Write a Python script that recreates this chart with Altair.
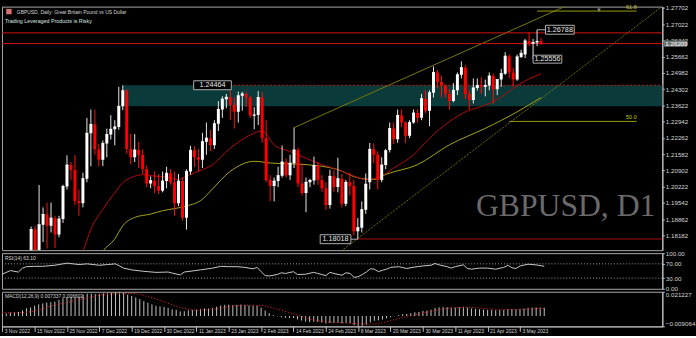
import altair as alt
import pandas as pd

# ---------------- data ----------------
opens = [1.1388,1.1166,1.1376,1.1513,1.1512,1.1351,1.1707,1.1842,1.1757,1.1862,
         1.1905,1.1858,1.1890,1.1822,1.1886,1.2022,1.2112,1.2092,1.1962,1.1952,
         1.2055,1.2245,1.2282,1.2178,1.2134,1.2203,1.2240,1.2262,1.2272,1.2358,
         1.2423,1.2180,1.2145,1.2175,1.2155,1.2095,1.2035,1.2047,1.2025,1.2005,
         1.2045,1.2078,1.2040,1.1952,1.2045,1.1892,1.2085,1.2174,1.2145,1.2135,
         1.2210,1.2225,1.2195,1.2285,1.2345,1.2388,1.2396,1.2365,1.2335,1.2402,
         1.2410,1.2395,1.2320,1.2322,1.2395,1.2225,1.2050,1.2025,1.2045,1.2068,
         1.2125,1.2070,1.2120,1.2175,1.2035,1.1995,1.2040,1.2048,1.2110,1.2050,
         1.2015,1.1945,1.2065,1.2020,1.2055,1.1950,1.2040,1.2025,1.1835,1.1850,
         1.1925,1.2040,1.2178,1.2155,1.2050,1.2112,1.2175,1.2265,1.2220,1.2320,
         1.2290,1.2235,1.2290,1.2330,1.2310,1.2390,1.2340,1.2415,1.2500,1.2460,
         1.2445,1.2410,1.2380,1.2425,1.2490,1.2520,1.2410,1.2385,1.2435,1.2445,
         1.2440,1.2445,1.2485,1.2430,1.2470,1.2495,1.2568,1.2500,1.2470,1.2565,
         1.2575,1.2632,1.2620,1.2625,1.2632]
highs = [1.1393,1.1385,1.1541,1.1564,1.1540,1.1728,1.1855,1.1857,1.2029,1.1935,
         1.1955,1.1955,1.1900,1.1900,1.2030,1.2153,1.2125,1.2154,1.2010,1.2080,
         1.2310,1.2345,1.2345,1.2200,1.2215,1.2265,1.2321,1.2300,1.2440,1.2446,
         1.2430,1.2243,1.2242,1.2210,1.2178,1.2110,1.2065,1.2085,1.2075,1.2085,
         1.2105,1.2095,1.2085,1.2075,1.2060,1.2095,1.2193,1.2190,1.2180,1.2247,
         1.2290,1.2260,1.2300,1.2380,1.2400,1.2410,1.2447,1.2395,1.2420,1.2419,
         1.2420,1.2400,1.2355,1.2422,1.2418,1.2300,1.2070,1.2060,1.2105,1.2194,
         1.2140,1.2155,1.2269,1.2185,1.2120,1.2060,1.2055,1.2148,1.2125,1.2070,
         1.2040,1.2093,1.2090,1.2143,1.2075,1.2050,1.2080,1.2050,1.1890,1.1960,
         1.2077,1.2205,1.2203,1.2170,1.2145,1.2180,1.2290,1.2290,1.2345,1.2345,
         1.2295,1.2300,1.2345,1.2345,1.2410,1.2425,1.2425,1.2525,1.2510,1.2485,
         1.2450,1.2430,1.2455,1.2500,1.2546,1.2530,1.2425,1.2475,1.2475,1.2480,
         1.2470,1.2500,1.2495,1.2470,1.2515,1.2585,1.2575,1.2520,1.2575,1.2595,
         1.2640,1.2668,1.2640,1.26788,1.2645]
lows = [1.1142,1.1146,1.1370,1.1440,1.1330,1.1335,1.1700,1.1710,1.1710,1.1790,
        1.1763,1.1830,1.1765,1.1810,1.1870,1.2010,1.2050,1.1945,1.1900,1.1935,
        1.2040,1.2107,1.2155,1.2106,1.2108,1.2145,1.2219,1.2195,1.2260,1.2342,
        1.2160,1.2115,1.2125,1.2100,1.2075,1.2020,1.2015,1.1995,1.1990,1.1998,
        1.2015,1.2030,1.1900,1.1940,1.1880,1.1842,1.2072,1.2105,1.2085,1.2100,
        1.2155,1.2170,1.2180,1.2255,1.2310,1.2350,1.2300,1.2265,1.2290,1.2340,
        1.2355,1.2310,1.2262,1.2280,1.2205,1.2040,1.1961,1.1960,1.2020,1.2060,
        1.2060,1.2050,1.2100,1.2020,1.1985,1.1915,1.2020,1.2030,1.2030,1.2000,
        1.1925,1.1930,1.2000,1.1998,1.1935,1.1940,1.1985,1.1818,1.18018,1.1830,
        1.1908,1.2010,1.2120,1.2010,1.2040,1.2095,1.2165,1.2200,1.2205,1.2270,
        1.2205,1.2225,1.2285,1.2290,1.2300,1.2330,1.2275,1.2395,1.2435,1.2395,
        1.2395,1.2345,1.2375,1.2405,1.2475,1.2390,1.2345,1.2370,1.2425,1.2410,
        1.2400,1.2425,1.2370,1.2405,1.2440,1.2490,1.2475,1.2440,1.2465,1.2560,
        1.2560,1.2610,1.25556,1.2610,1.2615]
closes = [1.1166,1.1376,1.1513,1.1512,1.1351,1.1707,1.1842,1.1757,1.1862,1.1905,
          1.1858,1.1890,1.1822,1.1886,1.2022,1.2112,1.2092,1.1962,1.1952,1.2055,
          1.2245,1.2282,1.2178,1.2134,1.2203,1.2240,1.2262,1.2272,1.2358,1.2423,
          1.2180,1.2145,1.2175,1.2155,1.2095,1.2035,1.2047,1.2025,1.2005,1.2045,
          1.2078,1.2040,1.1952,1.2045,1.1892,1.2085,1.2174,1.2145,1.2135,1.2210,
          1.2225,1.2195,1.2285,1.2345,1.2388,1.2396,1.2365,1.2335,1.2402,1.2410,
          1.2395,1.2320,1.2322,1.2395,1.2225,1.2050,1.2025,1.2045,1.2068,1.2125,
          1.2070,1.2120,1.2175,1.2035,1.1995,1.2040,1.2048,1.2110,1.2050,1.2015,
          1.1945,1.2065,1.2020,1.2055,1.1950,1.2040,1.2025,1.1835,1.1850,1.1925,
          1.2032,1.2178,1.2155,1.2050,1.2112,1.2172,1.2265,1.2220,1.2320,1.2290,
          1.2235,1.2290,1.2330,1.2310,1.2390,1.2340,1.2415,1.2500,1.2460,1.2445,
          1.2410,1.2380,1.2425,1.2490,1.2520,1.2410,1.2385,1.2435,1.2445,1.2440,
          1.2445,1.2485,1.2430,1.2470,1.2495,1.2568,1.2500,1.2470,1.2565,1.2580,
          1.2632,1.2620,1.2625,1.2630,1.2622]

date_tick_idx = [0, 8, 16, 24, 32, 40, 48, 56, 64, 72, 80, 88, 96, 104, 112, 120, 128]
date_tick_labels = ["3 Nov 2022", "15 Nov 2022", "25 Nov 2022", "7 Dec 2022", "19 Dec 2022",
                    "30 Dec 2022", "11 Jan 2023", "23 Jan 2023", "2 Feb 2023", "14 Feb 2023",
                    "24 Feb 2023", "8 Mar 2023", "20 Mar 2023", "30 Mar 2023", "11 Apr 2023",
                    "21 Apr 2023", "3 May 2023"]
price_ticks = [1.27702, 1.27022, 1.26342, 1.25662, 1.24982, 1.24302, 1.23622, 1.22942,
               1.22262, 1.21582, 1.20902, 1.20222, 1.19542, 1.18862, 1.18182]

red_ma_idx = [16, 19, 21, 24, 27, 29, 31, 34, 37, 41, 43, 45, 49, 51, 56, 61, 64, 67, 71, 75,
              79, 83, 87, 90, 93, 97, 102, 106, 111, 115, 120, 124, 128, 131, 134]
red_ma_val = [1.1700, 1.1752, 1.1844, 1.1927, 1.1996, 1.2038, 1.2059, 1.2072, 1.2066, 1.2059,
              1.2052, 1.2066, 1.2093, 1.2108, 1.2183, 1.2238, 1.2255, 1.2197, 1.2169, 1.2141,
              1.2114, 1.2093, 1.2066, 1.2052, 1.2059, 1.2100, 1.2155, 1.2225, 1.2294, 1.2335,
              1.2363, 1.2397, 1.2445, 1.2473, 1.2494]
olive_ma_idx = [22, 24, 27, 29, 32, 36, 39, 42, 45, 49, 51, 56, 62, 66, 75, 83, 88, 92, 95,
                103, 111, 120, 128, 134]
olive_ma_val = [1.1700, 1.1752, 1.1803, 1.1858, 1.1893, 1.1907, 1.1921, 1.1930, 1.1941, 1.1969,
                1.2003, 1.2086, 1.2128, 1.2121, 1.2114, 1.2093, 1.2059, 1.2052, 1.2073,
                1.2114, 1.2197, 1.2266, 1.2335, 1.2395]

upper_channel_idx = [72, 141]
upper_channel_val = [1.2269, 1.2784]
lower_channel_idx = [83, 164]
lower_channel_val = [1.1742, 1.2771]

zone_start_idx, zone_end_idx = 29, 170
zone_top, zone_bottom = 1.24464, 1.2358
red_levels = [1.26657, 1.26209]
low_level_idx, low_level = 88, 1.18028
fibo_start_idx = [133, 126]
fibo_end_idx = 158
fibo_levels = [1.27570, 1.22950]
fibo_names = ["61.8", "50.0"]

rsi_idx = [0, 2, 4, 5, 6, 8, 10, 13, 16, 19, 21, 24, 26, 28, 30, 32, 35, 38, 41, 42, 44, 45,
           49, 52, 54, 56, 58, 60, 62, 63, 64, 65, 66, 68, 69, 70, 72, 73, 75, 77, 78, 80,
           81, 82, 84, 85, 86, 87, 88, 89, 90, 91, 92, 93, 94, 95, 96, 98, 100, 102, 104,
           106, 107, 108, 110, 111, 112, 114, 115, 116, 118, 120, 122, 124, 125, 126, 127,
           128, 130, 132, 134]
rsi_val = [41, 51, 47, 58, 62, 63, 63, 66, 72, 68, 70, 66, 68, 70, 58, 53, 49, 46, 47, 44, 39, 47,
           53, 58, 63, 62, 62, 60, 56, 60, 48, 37, 36, 40, 45, 43, 48, 40, 41, 46, 43, 37,
           46, 43, 38, 45, 43, 32, 34, 40, 47, 56, 55, 48, 52, 55, 60, 62, 57, 61, 64,
           66, 71, 67, 62, 58, 62, 67, 57, 55, 58, 58, 55, 60, 66, 59, 57,
           64, 69, 67, 63.1]
rsi_levels = [70, 30]

macd_vals = [0.0020,0.0022,0.0030,0.0036,0.0036,0.0050,0.0068,0.0076,0.0092,0.0102,
             0.0110,0.0118,0.0120,0.0126,0.0140,0.0156,0.0166,0.0165,0.0162,0.0168,
             0.0184,0.0196,0.0196,0.0192,0.0194,0.0198,0.0200,0.0201,0.0206,0.0212,
             0.0200,0.0186,0.0175,0.0162,0.0148,0.0130,0.0116,0.0102,0.0090,0.0084,
             0.0080,0.0072,0.0058,0.0055,0.0040,0.0042,0.0050,0.0054,0.0056,0.0062,
             0.0066,0.0066,0.0072,0.0082,0.0092,0.0098,0.0098,0.0096,0.0098,0.0100,
             0.0098,0.0093,0.0088,0.0090,0.0074,0.0048,0.0025,0.0008,-0.0004,-0.0010,
             -0.0016,-0.0018,-0.0018,-0.0030,-0.0040,-0.0048,-0.0053,-0.0050,-0.0052,-0.0056,
             -0.0065,-0.0060,-0.0060,-0.0058,-0.0064,-0.0062,-0.0063,-0.0080,-0.0091,-0.0088,
             -0.0075,-0.0055,-0.0042,-0.0038,-0.0030,-0.0020,-0.0010,-0.0002,0.0008,0.0016,
             0.0018,0.0025,0.0033,0.0036,0.0045,0.0048,0.0056,0.0070,0.0076,0.0078,
             0.0077,0.0073,0.0073,0.0077,0.0082,0.0074,0.0066,0.0062,0.0059,0.0056,
             0.0054,0.0055,0.0051,0.0052,0.0054,0.0062,0.0061,0.0059,0.0063,0.0066,
             0.0072,0.0074,0.0075,0.0075,0.0073]
signal_idx = [0, 4, 8, 12, 16, 20, 24, 28, 32, 36, 40, 44, 48, 52, 56, 60, 64, 68, 72, 76, 80,
              84, 88, 92, 96, 100, 104, 108, 112, 116, 120, 124, 128, 132, 134]
signal_val = [0.0030, 0.0028, 0.0045, 0.0085, 0.0120, 0.0150, 0.0180, 0.0195, 0.0198, 0.0170,
              0.0125, 0.0075, 0.0052, 0.0058, 0.0080, 0.0094, 0.0092, 0.0060, 0.0020, -0.0025,
              -0.0050, -0.0058, -0.0068, -0.0070, -0.0040, -0.0005, 0.0025, 0.0055, 0.0073,
              0.0075, 0.0064, 0.0056, 0.0058, 0.0064, 0.0066]

ann_idx = [56, 88, 133, 132]
ann_price = [1.24464, 1.18018, 1.26788, 1.25556]
bid_price = 1.26209

# ---------------- styling helpers ----------------
FONT = "Liberation Sans"
TXT = "#d6d6d6"
xscale = alt.Scale(domain=[-0.073, 163.2], nice=False, zero=False)
yscale = alt.Scale(domain=[1.17559, 1.27756], nice=False, zero=False)
rsi_scale = alt.Scale(domain=[0, 100], nice=False, zero=False)
macd_scale = alt.Scale(domain=[-0.009064, 0.021227], nice=False, zero=False)

def right_axis(values, fmt, flush=False):
    return alt.Axis(orient="right", values=values, format=fmt, title=None, grid=False,
                    labelColor=TXT, labelFontSize=6.3, labelFont=FONT, tickSize=2,
                    tickColor="#c0c0c0", domainColor="#d0d0d0", labelPadding=1,
                    labelFlush=flush, labelOverlap=False)

price_axis = right_axis(price_ticks, ".5f")
rsi_axis = right_axis([100, 70, 30, 0], ".2f")
macd_axis = right_axis([0.021227, -0.009064], ".6f", flush=True)

label_expr = "[" + ",".join("'%s'" % s for s in date_tick_labels) + "][round(datum.value/8)]"
date_axis = alt.Axis(orient="bottom", values=date_tick_idx, labelExpr=label_expr, title=None,
                     grid=False, labelAlign="left", labelBaseline="top", labelPadding=-3,
                     tickSize=5, labelOffset=2, labelFontSize=5, labelFont=FONT, labelColor=TXT,
                     tickColor="#c0c0c0", domainColor="#c0c0c0", labelFlush=False,
                     labelOverlap=False, labelBound=False)

def X(f, axis=None):
    return alt.X(f"{f}:Q", scale=xscale, axis=axis)

def Y(f):
    return alt.Y(f"{f}:Q", scale=yscale, axis=price_axis)

def YR(f):
    return alt.Y(f"{f}:Q", scale=rsi_scale, axis=rsi_axis)

def YM(f):
    return alt.Y(f"{f}:Q", scale=macd_scale, axis=macd_axis)

one = pd.DataFrame({"k": [0]})

# ---------------- main panel ----------------
n = len(closes)
cdf = pd.DataFrame({"i": list(range(n)), "o": opens, "h": highs, "l": lows, "c": closes})
up = cdf[cdf.c >= cdf.o]
dn = cdf[cdf.c < cdf.o]

zone = alt.Chart(pd.DataFrame({"a": [zone_start_idx], "b": [zone_end_idx],
                               "t": [zone_top], "u": [zone_bottom]})).mark_rect(
    color="#0b3a3a", clip=True).encode(x=X("a"), x2="b", y=Y("t"), y2="u")

watermark = alt.Chart(one).mark_text(text="GBPUSD, D1", font="Liberation Serif", fontSize=32,
                                     color="#6a6a6a", align="right", baseline="alphabetic").encode(
    x=alt.value(660), y=alt.value(211))

ma_red = alt.Chart(pd.DataFrame({"i": red_ma_idx, "v": red_ma_val})).mark_line(
    color="#b40c0c", strokeWidth=1, interpolate="monotone", clip=True).encode(x=X("i"), y=Y("v"))
ma_olive = alt.Chart(pd.DataFrame({"i": olive_ma_idx, "v": olive_ma_val})).mark_line(
    color="#a8a41c", strokeWidth=1, interpolate="monotone", clip=True).encode(x=X("i"), y=Y("v"))

ch_up = alt.Chart(pd.DataFrame({"i": upper_channel_idx, "v": upper_channel_val})).mark_line(
    color="#78780a", strokeWidth=1, clip=True).encode(x=X("i"), y=Y("v"))
ch_lo = alt.Chart(pd.DataFrame({"i": lower_channel_idx, "v": lower_channel_val})).mark_line(
    color="#8a8a10", strokeWidth=1, strokeDash=[1, 1], clip=True).encode(x=X("i"), y=Y("v"))

fdf = pd.DataFrame({"a": fibo_start_idx, "b": [fibo_end_idx] * 2, "p": fibo_levels,
                    "t": fibo_names})
fibo = alt.Chart(fdf).mark_rule(color="#9a9a10", strokeWidth=1, clip=True).encode(
    x=X("a"), x2="b", y=Y("p"))
fibo_txt = alt.Chart(fdf).mark_text(color="#c8c820", fontSize=5.5, font=FONT, align="right",
                                    baseline="bottom", dy=-1).encode(x=X("b"), y=Y("p"), text="t:N")

red_lines = alt.Chart(pd.DataFrame({"p": red_levels})).mark_rule(
    color="#d41414", strokeWidth=1).encode(y=Y("p"))
dash_line = alt.Chart(pd.DataFrame({"a": [ann_idx[0]], "b": [zone_end_idx], "p": [zone_top]})).mark_rule(
    color="#c01818", strokeWidth=1, strokeDash=[2, 2], clip=True).encode(x=X("a"), x2="b", y=Y("p"))
low_line = alt.Chart(pd.DataFrame({"a": [low_level_idx], "b": [zone_end_idx], "p": [low_level]})).mark_rule(
    color="#b00c0c", strokeWidth=1, clip=True).encode(x=X("a"), x2="b", y=Y("p"))

wick_up = alt.Chart(up).mark_rule(color="#e8e8e8", strokeWidth=1, clip=True).encode(
    x=X("i"), y=Y("l"), y2="h")
wick_dn = alt.Chart(dn).mark_rule(color="#ff1010", strokeWidth=1, clip=True).encode(
    x=X("i"), y=Y("l"), y2="h")
body_up = alt.Chart(up).mark_bar(size=3, color="#ffffff", clip=True).encode(
    x=X("i"), y=Y("o"), y2="c")
body_dn = alt.Chart(dn).mark_bar(size=3, color="#ff0000", clip=True).encode(
    x=X("i"), y=Y("o"), y2="c")
close_tick = alt.Chart(up).mark_rule(color="#ffffff", strokeWidth=1, clip=True).transform_calculate(
    xa="datum.i - 0.37", xb="datum.i + 0.37").encode(x=X("xa"), x2="xb", y=Y("c"))

adf = pd.DataFrame({"i": ann_idx, "p": ann_price, "t": ["%.5f" % v for v in ann_price]})
shapes = ["M-37,-4.5H1V4.5H-37Z",
          "M-38,-4.5H-7V4.5H-38Z M-7,0H0",
          "M0,0H8.5 M8.5,-4.5H37.5V4.5H8.5Z",
          "M0,-4H29V4H0Z"]
text_dx = [-18, -22.5, 23, 14.5]
ann_layers = []
for k in range(len(ann_idx)):
    row = adf.iloc[[k]]
    ann_layers.append(alt.Chart(row).mark_point(shape=shapes[k], size=4, filled=True, fill="#000000",
                                                stroke="#b0b0b0", strokeWidth=1, opacity=1).encode(
        x=X("i"), y=Y("p")))
    ann_layers.append(alt.Chart(row).mark_text(dx=text_dx[k], fontSize=7.3, font=FONT, color="#e6e6e6",
                                               align="center", baseline="middle").encode(
        x=X("i"), y=Y("p"), text="t:N"))

bid_box = alt.Chart(pd.DataFrame({"p": [bid_price]})).mark_point(
    shape="M0,-3.2H24V3.2H0Z", size=4, filled=True, fill="#6e7676", strokeWidth=0, opacity=1).encode(
    x=alt.value(668), y=Y("p"))
bid_txt = alt.Chart(pd.DataFrame({"p": [bid_price], "t": ["%.5f" % bid_price]})).mark_text(
    fontSize=6.3, font=FONT, color="#ffffff", align="left", baseline="middle").encode(
    x=alt.value(670), y=Y("p"), text="t:N")

icon = alt.Chart(one).mark_point(shape="square", size=30, filled=True, color="#d87070", opacity=1).encode(
    x=alt.value(7), y=alt.value(5))
title1 = alt.Chart(one).mark_text(text="GBPUSD, Daily:  Great Britain Pound vs US Dollar", fontSize=5,
                                  font=FONT, color=TXT, align="left", baseline="middle").encode(
    x=alt.value(15), y=alt.value(5))
title2 = alt.Chart(one).mark_text(text="Trading Leveraged Products is Risky", fontSize=5.4, font=FONT,
                                  color="#d8e8e0", align="left", baseline="middle").encode(
    x=alt.value(3), y=alt.value(15))
shift_mark = alt.Chart(one).mark_text(text="\u25bc", fontSize=6, color="#8c8c8c", align="center",
                                      baseline="top").encode(x=alt.value(603), y=alt.value(0))

main = alt.layer(zone, watermark, ch_up, ch_lo, fibo, fibo_txt, ma_olive, ma_red, red_lines,
                 dash_line, low_line, wick_up, wick_dn, body_up, body_dn, close_tick,
                 *ann_layers, bid_box, bid_txt, icon, title1, title2, shift_mark).properties(
    width=667, height=246)

# ---------------- RSI panel ----------------
rsi_line = alt.Chart(pd.DataFrame({"i": rsi_idx, "v": rsi_val})).mark_line(
    color="#c8c8c8", strokeWidth=1, clip=True).encode(x=X("i"), y=YR("v"))
rsi_lv = alt.Chart(pd.DataFrame({"v": rsi_levels})).mark_rule(
    color="#a0a0a0", strokeWidth=1, strokeDash=[1, 2]).encode(y=YR("v"))
rsi_title = alt.Chart(one).mark_text(text="RSI(14) 63.10", fontSize=5, font=FONT, color=TXT,
                                     align="left", baseline="middle").encode(
    x=alt.value(3), y=alt.value(4.5))
rsi = alt.layer(rsi_lv, rsi_line, rsi_title).properties(width=667, height=36)

# ---------------- MACD panel ----------------
mdf = pd.DataFrame({"i": list(range(n)), "m": macd_vals, "z": [0.0] * n})
hist = alt.Chart(mdf).mark_rule(color="#c4c4c4", strokeWidth=1, clip=True).encode(
    x=X("i", date_axis), y=YM("m"), y2="z")
sig = alt.Chart(pd.DataFrame({"i": signal_idx, "v": signal_val})).mark_line(
    color="#ff2020", strokeWidth=1, strokeDash=[1, 2], interpolate="monotone", clip=True).encode(
    x=X("i", date_axis), y=YM("v"))
macd_title = alt.Chart(one).mark_text(text="MACD(12,26,9) 0.007337 0.006602", fontSize=5, font=FONT,
                                      color=TXT, align="left", baseline="middle").encode(
    x=alt.value(3), y=alt.value(4.5))
macd = alt.layer(hist, sig, macd_title).properties(width=667, height=35)

chart = alt.vconcat(main, rsi, macd, spacing=3, bounds="flush").properties(
    background="#000000",
    padding={"left": 1, "top": 2, "right": 0, "bottom": 0},
).configure_view(stroke="#a8a8a8", strokeWidth=1)

chart.save("out.html", embed_options={"renderer": "svg", "actions": False})
